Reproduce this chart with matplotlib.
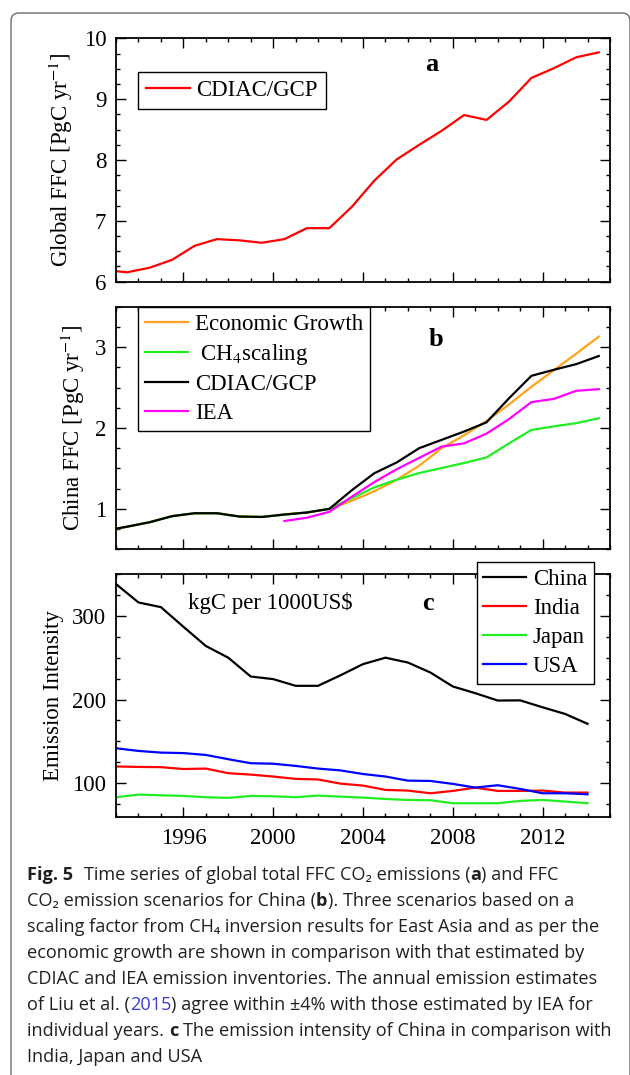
import matplotlib
matplotlib.use('Agg')
import matplotlib.pyplot as plt
import numpy as np
from matplotlib.patches import FancyBboxPatch
from matplotlib.ticker import MultipleLocator

plt.rcParams['font.family'] = 'Liberation Serif'
plt.rcParams['mathtext.fontset'] = 'stix'
plt.rcParams['font.size'] = 16.5

# ---- data ----
# panels a and b: annual values plotted at mid-year
years_ab = np.arange(1992, 2015) + 0.5
global_ffc = [6.19, 6.155, 6.23, 6.36, 6.59, 6.70, 6.68, 6.64, 6.70, 6.88, 6.88,
              7.23, 7.66, 8.01, 8.25, 8.48, 8.74, 8.66, 8.96, 9.35, 9.51, 9.69, 9.77]

china_cdiac = [0.73, 0.78, 0.835, 0.91, 0.946, 0.946, 0.905, 0.90, 0.93, 0.955, 1.0,
               1.23, 1.44, 1.574, 1.75, 1.853, 1.956, 2.07, 2.367, 2.645, 2.72, 2.79, 2.89]
# scenarios follow CDIAC until 2002
econ_growth = china_cdiac[:11] + [1.10, 1.217, 1.36, 1.533, 1.75, 1.91, 2.087, 2.29,
                                  2.51, 2.715, 2.92, 3.13]
ch4_scaling = china_cdiac[:11] + [1.13, 1.266, 1.36, 1.443, 1.505, 1.567, 1.636, 1.81,
                                  1.976, 2.02, 2.06, 2.12]
years_iea = np.arange(2000, 2015) + 0.5
iea = [0.85, 0.89, 0.963, 1.15, 1.33, 1.49, 1.63, 1.77, 1.81, 1.93, 2.11, 2.32, 2.36,
       2.46, 2.48]

# panel c: emission intensity, kgC per 1000 US$
years_c = np.arange(1993, 2015)
int_china = [338, 316, 310.4, 287, 264, 250, 227.5, 224.4, 216.4, 216.4, 229, 242.3,
             250, 244.2, 232.3, 215.6, 207.6, 198.8, 199, 190.7, 182.8, 171]
int_india = [120, 119.5, 119.2, 117, 117.5, 112, 110.3, 108, 105.2, 104.5, 99.5, 97.2,
             92, 91.2, 88, 90.8, 94.8, 90.8, 90.8, 91.2, 88.8, 88.8]
int_japan = [83.3, 86.4, 85.6, 84.8, 83.3, 82.5, 84.8, 84.4, 83.3, 85.2, 84, 82.8,
             81.2, 80, 79.7, 76.1, 76, 76.1, 78.9, 80, 78.1, 76.1]
int_usa = [141.8, 138.6, 136.6, 136, 133.8, 128.7, 123.9, 123.3, 120.7, 117.5, 115.3,
           111, 108, 103.1, 102.7, 99.2, 94.8, 97.6, 93.2, 88, 88, 86.8]

xtick_years = [1996, 2000, 2004, 2008, 2012]

W, H = 630, 1075
fig = plt.figure(figsize=(W / 100, H / 100), dpi=100)


def px_rect(l, t, r, b):
    return [l / W, 1 - b / H, (r - l) / W, (b - t) / H]


def style_axes(ax, ymajor, yminor):
    ax.set_xlim(1993, 2015)
    ax.xaxis.set_major_locator(MultipleLocator(4))
    ax.xaxis.set_minor_locator(MultipleLocator(1))
    ax.set_xticks(xtick_years)
    ax.yaxis.set_major_locator(MultipleLocator(ymajor))
    ax.yaxis.set_minor_locator(MultipleLocator(yminor))
    ax.tick_params(which='both', direction='in', top=True, right=True, width=1.0,
                   labelsize=16.5)
    ax.tick_params(which='major', length=7.5)
    ax.tick_params(which='minor', length=3.2)
    ax.tick_params(axis='y', pad=7)
    ax.tick_params(axis='x', pad=8)
    for sp in ax.spines.values():
        sp.set_linewidth(1.3)


def legend_style(leg):
    fr = leg.get_frame()
    fr.set_edgecolor('black')
    fr.set_linewidth(1.0)


lw = 1.6

# ---- panel a ----
ax1 = fig.add_axes(px_rect(116, 38.4, 610, 281.7))
ax1.plot(years_ab, global_ffc, color='#ff0000', lw=lw, label='CDIAC/GCP')
ax1.set_ylim(6, 10)
style_axes(ax1, 1, 0.25)
ax1.set_xticklabels([])
ax1.set_ylabel('Global FFC [PgC yr$^{-1}$]', labelpad=6)
leg = ax1.legend(loc='upper left', bbox_to_anchor=(0.0445, 0.861), borderaxespad=0,
                 fancybox=False, framealpha=1, handlelength=1.9, handletextpad=0.3,
                 borderpad=0.35, fontsize=16.5)
legend_style(leg)
ax1.text(0.640, 0.891, 'a', transform=ax1.transAxes, ha='center', va='center',
         fontsize=19, fontweight='bold')

# ---- panel b ----
ax2 = fig.add_axes(px_rect(116, 306.7, 610, 549.3))
ax2.plot(years_ab, econ_growth, color='#ffa31a', lw=lw, label='Economic Growth')
ax2.plot(years_ab, ch4_scaling, color='#22ee22', lw=lw, label=' CH$_4$scaling')
ax2.plot(years_ab, china_cdiac, color='black', lw=lw, label='CDIAC/GCP')
ax2.plot(years_iea, iea, color='#ff00ff', lw=lw, label='IEA')
ax2.set_ylim(0.5, 3.5)
style_axes(ax2, 1, 0.25)
ax2.set_xticklabels([])
ax2.set_ylabel('China FFC [PgC yr$^{-1}$]', labelpad=6)
leg = ax2.legend(loc='upper left', bbox_to_anchor=(0.0445, 1.0), borderaxespad=0,
                 fancybox=False, framealpha=1, handlelength=1.9, handletextpad=0.3,
                 borderpad=0.3, labelspacing=0.32, fontsize=16.5)
legend_style(leg)
ax2.text(0.648, 0.863, 'b', transform=ax2.transAxes, ha='center', va='center',
         fontsize=19, fontweight='bold')

# ---- panel c ----
ax3 = fig.add_axes(px_rect(116, 574, 610, 816.7))
ax3.plot(years_c, int_china, color='black', lw=lw, label='China')
ax3.plot(years_c, int_india, color='#ff0000', lw=lw, label='India')
ax3.plot(years_c, int_japan, color='#22ee22', lw=lw, label='Japan')
ax3.plot(years_c, int_usa, color='#0000ff', lw=lw, label='USA')
ax3.set_ylim(60, 350)
style_axes(ax3, 100, 25)
ax3.set_ylabel('Emission Intensity', labelpad=6)
leg = ax3.legend(loc='upper right', bbox_to_anchor=(0.9676, 1.0507), borderaxespad=0,
                 fancybox=False, framealpha=1, handlelength=1.85, handletextpad=0.3,
                 borderpad=0.3, labelspacing=0.35, fontsize=16.5)
legend_style(leg)
leg.set_zorder(10)
ax3.text(0.632, 0.880, 'c', transform=ax3.transAxes, ha='center', va='center',
         fontsize=19, fontweight='bold')
ax3.text(0.312, 0.880, r'kgC per 1000US\$', transform=ax3.transAxes, ha='center',
         va='center', fontsize=16.5)

# ---- outer frame ----
frame = FancyBboxPatch((0.11, -0.3), 6.19, 10.62 + 0.3,
                       boxstyle='round,pad=0,rounding_size=0.08',
                       transform=fig.dpi_scale_trans, fill=False,
                       edgecolor='#6b6b6b', linewidth=1.0, clip_on=False)
fig.add_artist(frame)

# ---- caption ----
cap_font = ['Open Sans', 'DejaVu Sans']
cap_color = '#231f20'
link_color = '#3b3bd6'
caption = [
    [('Fig. 5', 'bold', cap_color, False), ('Time series of global total FFC CO₂ emissions (', 'normal', cap_color, True),
     ('a', 'bold', cap_color, False), (') and FFC', 'normal', cap_color, False)],
    [('CO₂ emission scenarios for China (', 'normal', cap_color, False), ('b', 'bold', cap_color, False),
     ('). Three scenarios based on a', 'normal', cap_color, False)],
    [('scaling factor from CH₄ inversion results for East Asia and as per the', 'normal', cap_color, False)],
    [('economic growth are shown in comparison with that estimated by', 'normal', cap_color, False)],
    [('CDIAC and IEA emission inventories. The annual emission estimates', 'normal', cap_color, False)],
    [('of Liu et al. (', 'normal', cap_color, False), ('2015', 'normal', link_color, False),
     (') agree within ±4% with those estimated by IEA for', 'normal', cap_color, False)],
    [('individual years.', 'normal', cap_color, False), ('c', 'bold', cap_color, True),
     ('The emission intensity of China in comparison with', 'normal', cap_color, True)],
    [('India, Japan and USA', 'normal', cap_color, False)],
]
cap_y = [874, 900, 926, 952, 978, 1004, 1030, 1056]
cap_x0 = 27

renderer = fig.canvas.get_renderer()


def text_width(s, size, weight):
    t = fig.text(0, 0, s, fontsize=size, fontweight=weight, family=cap_font)
    w = t.get_window_extent(renderer).width
    t.remove()
    return w


# fit the font size so the longest line spans like the original
ref = 'individual years. c The emission intensity of China in comparison with'
cap_size = 10 * 585 / text_width(ref, 10, 'normal')
space_w = text_width('x x', cap_size, 'normal') - text_width('xx', cap_size, 'normal')

for line, yc in zip(caption, cap_y):
    x = cap_x0
    for s, weight, col, sp_before in line:
        if sp_before:
            x += space_w * (2.2 if weight == 'normal' and line[0][0] == 'Fig. 5' else 1.0)
        t = fig.text(x / W, 1 - (yc + 6) / H, s, fontsize=cap_size, fontweight=weight,
                     color=col, family=cap_font, va='baseline', ha='left')
        x += t.get_window_extent(renderer).width

fig.savefig('out.png', dpi=100)
